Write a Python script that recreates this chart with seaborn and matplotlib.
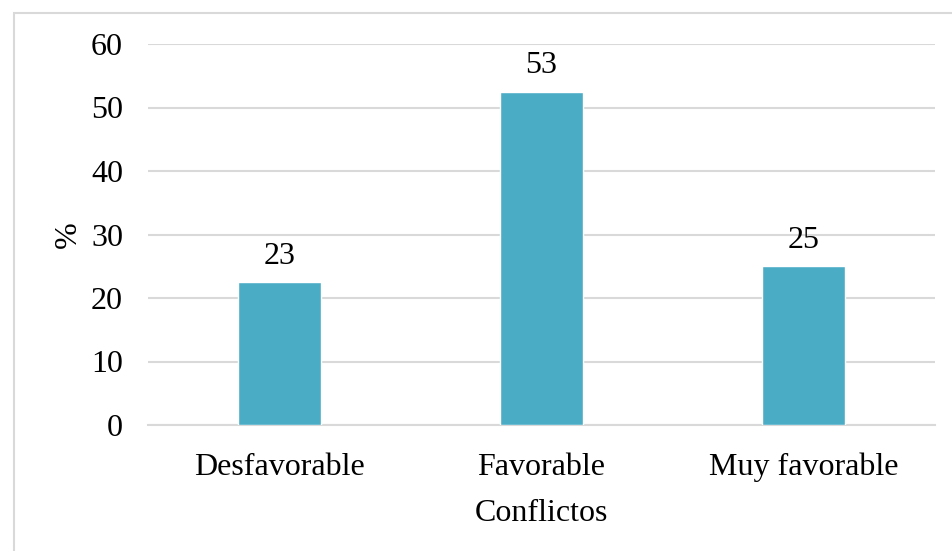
import matplotlib
matplotlib.use("Agg")
import matplotlib.pyplot as plt
import seaborn as sns
import pandas as pd
from matplotlib.patches import Rectangle

categories = ["Desfavorable", "Favorable", "Muy favorable"]
values = [22.5, 52.5, 25.0]
labels = ["23", "53", "25"]
yticks = [0, 10, 20, 30, 40, 50, 60]

sns.set_style("white")
plt.rcParams["font.family"] = ["Liberation Serif", "DejaVu Serif"]
plt.rcParams["text.color"] = "black"
plt.rcParams["axes.labelcolor"] = "black"
plt.rcParams["xtick.color"] = "black"
plt.rcParams["ytick.color"] = "black"

data = pd.DataFrame({"cat": categories, "val": values})

fig = plt.figure(figsize=(9.52, 5.51), dpi=100)
ax = fig.add_axes([148 / 952, 1 - 425 / 551, 787 / 952, 381 / 551])

sns.barplot(data=data, x="cat", y="val", color="#4BACC6", saturation=1,
            width=0.317, ax=ax, zorder=3)

for i, (v, lab) in enumerate(zip(values, labels)):
    ax.text(i, v + 1.8, lab, ha="center", va="bottom", fontsize=23)

ax.set_ylim(0, 60)
ax.set_yticks(yticks)
ax.yaxis.grid(True, color="#d9d9d9", linewidth=1.5, zorder=0)
for s in ["top", "right", "left"]:
    ax.spines[s].set_visible(False)
ax.spines["bottom"].set_color("#d9d9d9")
ax.spines["bottom"].set_linewidth(1.5)
ax.tick_params(axis="both", length=0, labelsize=23)
ax.tick_params(axis="y", pad=18)
ax.tick_params(axis="x", pad=20)
ax.set_xlabel("Conflictos", fontsize=23, labelpad=12)
ax.set_ylabel("%", fontsize=23, labelpad=6)

fig.patches.append(Rectangle((14 / 952, -0.1), 1.2, 1 - 13 / 551 + 0.1,
                             transform=fig.transFigure, fill=False,
                             edgecolor="#d9d9d9", linewidth=1.5))

fig.savefig("out.png", dpi=100)
